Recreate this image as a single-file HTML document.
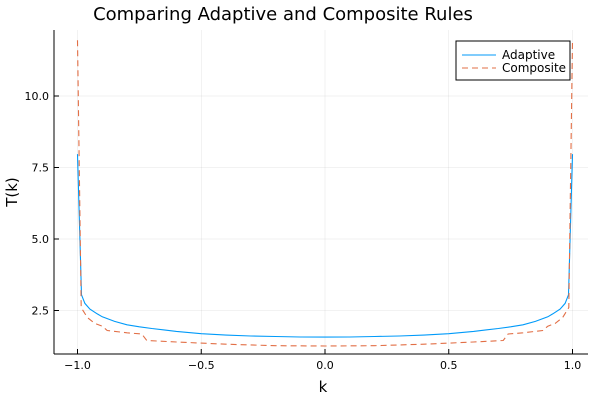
<!DOCTYPE html>
<html><head><meta charset="utf-8"><style>
body{margin:0;background:#fff}
svg{font-family:"DejaVu Sans","Liberation Sans",sans-serif;display:block}
</style></head><body>
<svg id="chart" width="600" height="400" viewBox="0 0 600 400">
<text x="283" y="20" font-size="18" text-anchor="middle">Comparing Adaptive and Composite Rules</text>
<g id="grid"></g>
<g id="axes"></g>
<g id="series"></g>
<text x="323" y="392" font-size="15" text-anchor="middle">k</text>
<text transform="translate(17,192) rotate(-90)" font-size="15" text-anchor="middle">T(k)</text>
<g>
<rect x="456" y="41" width="114" height="39" fill="#fff" stroke="#000" stroke-width="1"/>
<line x1="462" y1="55" x2="496" y2="55" stroke="#009af9" stroke-width="1.1"/>
<text x="502" y="59" font-size="12">Adaptive</text>
<line x1="462" y1="68" x2="496" y2="68" stroke="#e26f46" stroke-width="1.1" stroke-dasharray="6,4"/>
<text x="502" y="72" font-size="12">Composite</text>
</g>
</svg>
<script>
const xTicks=[-1.0,-0.5,0.0,0.5,1.0];
const xTickLabels=["−1.0","−0.5","0.0","0.5","1.0"];
const yTicks=[2.5,5.0,7.5,10.0];
const yTickLabels=["2.5","5.0","7.5","10.0"];
const adaptiveK=[-1,-0.984,-0.97,-0.95,-0.92,-0.9,-0.85,-0.8,-0.75,-0.7,-0.65,-0.6,-0.5,-0.4,-0.3,-0.2,-0.1,0,0.1,0.2,0.3,0.4,0.5,0.6,0.65,0.7,0.75,0.8,0.85,0.9,0.92,0.95,0.97,0.984,1];
const adaptiveT=[7.97,3.05,2.75,2.55,2.38,2.28,2.12,2.0,1.93,1.87,1.82,1.77,1.69,1.64,1.61,1.59,1.575,1.57,1.575,1.59,1.61,1.64,1.69,1.77,1.82,1.87,1.93,2.0,2.12,2.28,2.38,2.55,2.75,3.05,7.97];
const compositeK=[-1,-0.985,-0.96,-0.93,-0.9,-0.88,-0.8,-0.74,-0.72,-0.6,-0.4,-0.2,0,0.2,0.4,0.6,0.72,0.74,0.8,0.88,0.9,0.93,0.96,0.985,1];
const compositeT=[11.95,2.6,2.25,2.05,1.95,1.8,1.72,1.68,1.45,1.4,1.32,1.27,1.26,1.27,1.32,1.4,1.45,1.68,1.72,1.8,1.95,2.05,2.25,2.6,11.95];
const NS="http://www.w3.org/2000/svg";
const L=54,R=588,T=30,B=354;
const xs=k=>325+247.5*k;
const ys=v=>96+(10-v)*28.6;
function mk(tag,attrs,parent){const e=document.createElementNS(NS,tag);for(const a in attrs)e.setAttribute(a,attrs[a]);parent.appendChild(e);return e;}
const grid=document.getElementById('grid'),axes=document.getElementById('axes'),series=document.getElementById('series');
xTicks.forEach((t,i)=>{
 const g=mk('line',{x1:xs(t),x2:xs(t),y1:T,y2:B,stroke:'#000','stroke-opacity':0.1,'stroke-width':0.5},grid);
 
 
 mk('line',{x1:xs(t),x2:xs(t),y1:B,y2:B-5,stroke:'#000','stroke-width':1},axes);
 const tx=mk('text',{x:xs(t),y:B+15,'font-size':11,'text-anchor':'middle'},axes);
 tx.textContent=xTickLabels[i];
 
 
});
yTicks.forEach((t,i)=>{
 const g=mk('line',{x1:L,x2:R,y1:ys(t),y2:ys(t),stroke:'#000','stroke-opacity':0.1,'stroke-width':0.5},grid);
 
 
 mk('line',{x1:L,x2:L+5,y1:ys(t),y2:ys(t),stroke:'#000','stroke-width':1},axes);
 const tx=mk('text',{x:L-5,y:ys(t)+4,'font-size':11,'text-anchor':'end'},axes);
 tx.textContent=yTickLabels[i];
 
 
});
mk('line',{x1:L,x2:R,y1:B,y2:B,stroke:'#000','stroke-width':1},axes);
mk('line',{x1:L,x2:L,y1:T,y2:B,stroke:'#000','stroke-width':1},axes);
function path(K,V){return K.map((k,i)=>(i?'L':'M')+xs(k).toFixed(1)+','+ys(V[i]).toFixed(1)).join('');}
const pa=mk('path',{d:path(adaptiveK,adaptiveT),fill:'none',stroke:'#009af9','stroke-width':1.1},series);


const pc=mk('path',{d:path(compositeK,compositeT),fill:'none',stroke:'#e26f46','stroke-width':1.1,'stroke-dasharray':'6,4'},series);


</script>
</body></html>
